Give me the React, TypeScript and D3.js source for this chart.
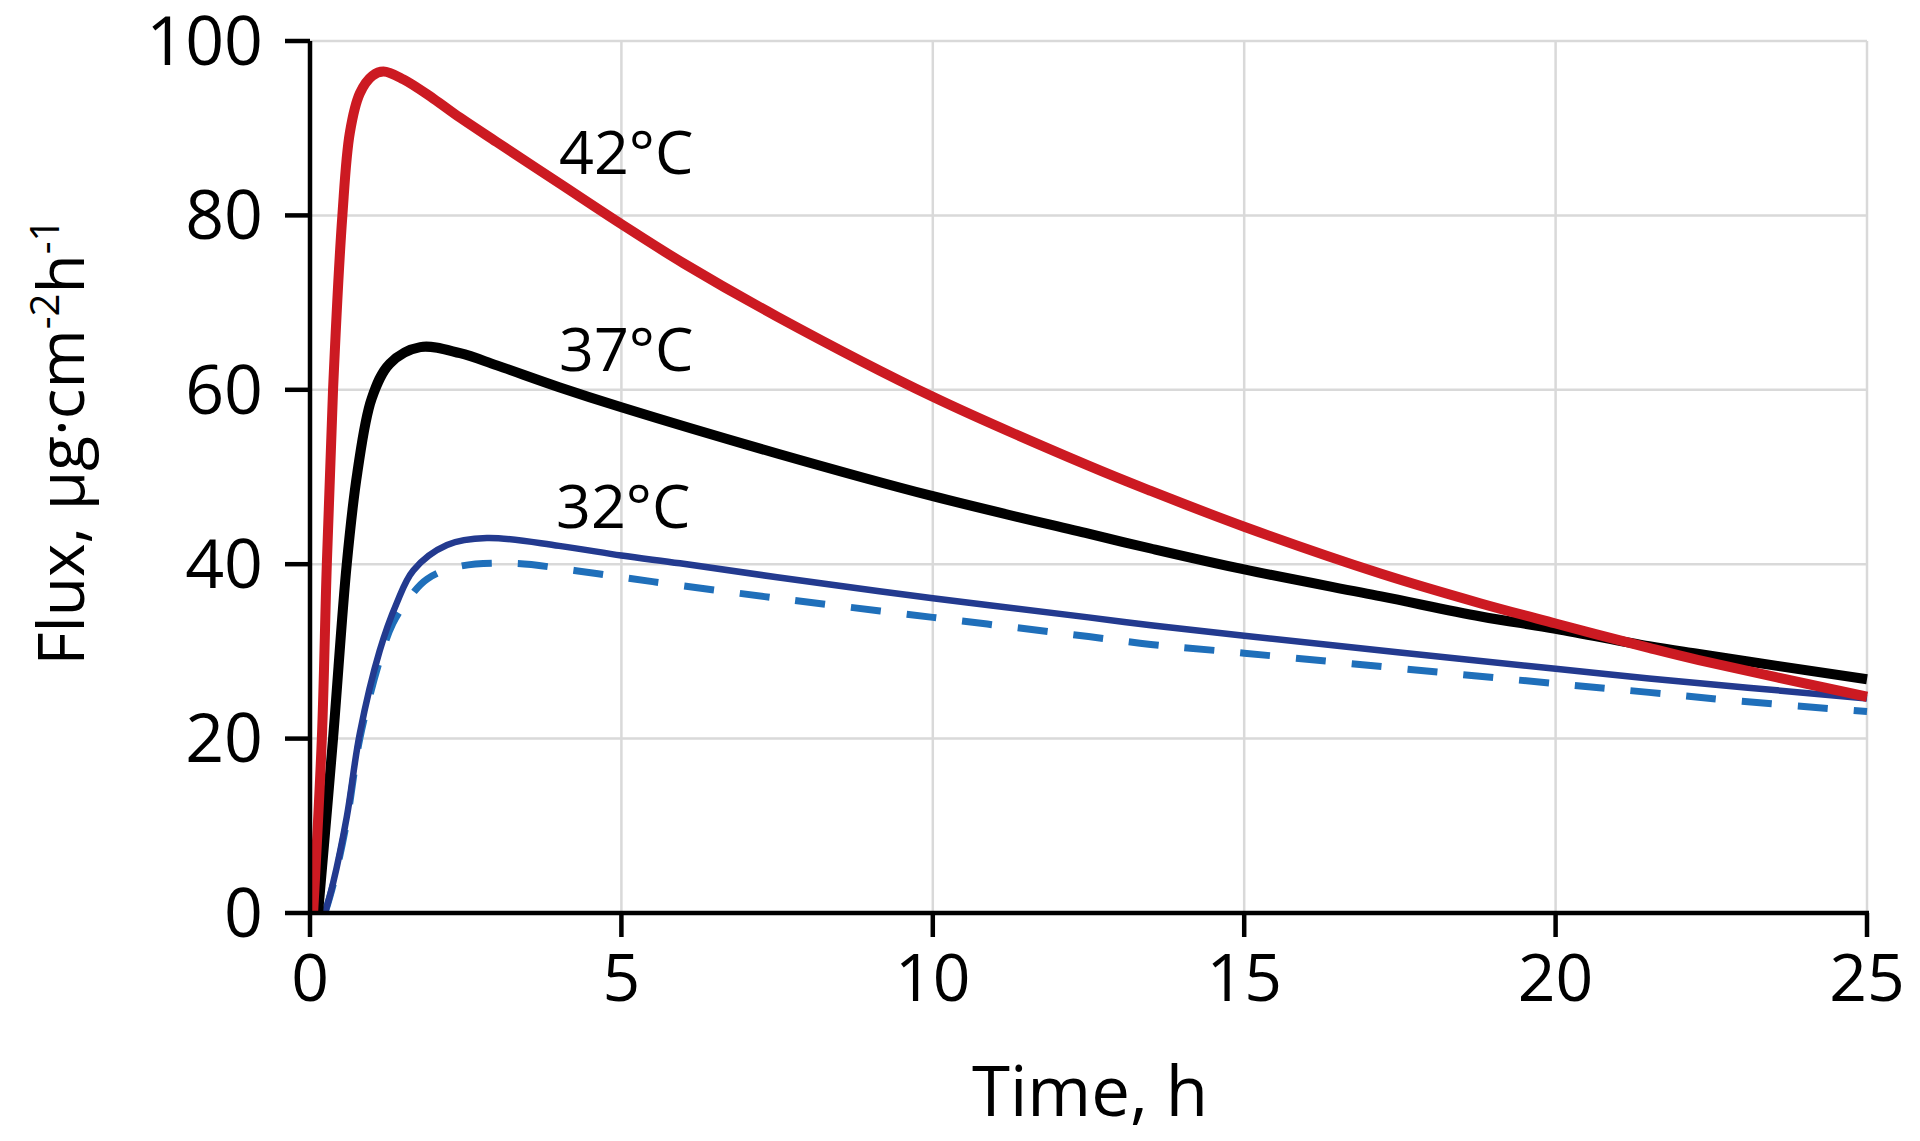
import React from 'react'
import * as d3 from 'd3'

// time (h) / flux values
const red42T = [0.05, 0.19, 0.27, 0.37, 0.52, 0.64, 0.8, 1.0, 1.18, 1.5, 1.98, 2.41, 3, 4, 5, 6, 7.5, 10, 12.5, 13.5, 15, 17.2, 18.8, 20, 21.5, 22.3, 25]
const red42V = [0, 20, 40, 60, 80, 89.5, 94, 96, 96.5, 95.6, 93.4, 91.2, 88.4, 83.7, 79, 74.5, 68.4, 59.2, 51.3, 48.4, 44.3, 38.9, 35.5, 33.2, 30.4, 29.0, 24.8]

const black37T = [0.13, 0.37, 0.59, 0.76, 0.99, 1.28, 1.77, 2.41, 3, 4, 5, 7.5, 10, 12.5, 13.5, 15, 17.2, 18.8, 20, 21.5, 22.3, 25]
const black37V = [0, 20, 40, 50.5, 59, 63, 64.9, 64.2, 62.8, 60.3, 58, 52.7, 47.8, 43.5, 41.8, 39.4, 36.3, 34.0, 32.6, 30.6, 29.7, 26.8]

const blue32T = [0.24, 0.37, 0.59, 0.8, 1.12, 1.39, 1.66, 2.2, 2.84, 4, 5, 5.94, 7.5, 10, 12.5, 13.5, 15, 20, 21.5, 25]
const blue32V = [0, 3.4, 11, 20.6, 30.1, 35.5, 39.3, 42.2, 43, 42.1, 41, 40.1, 38.5, 36.1, 33.9, 33.0, 31.8, 28.0, 26.9, 24.6]

const dashT = [0.24, 0.37, 0.59, 0.8, 1.12, 1.33, 1.6, 1.88, 2.36, 3.26, 4.33, 5.5, 7.5, 10, 12.5, 13.5, 15, 20, 21.5, 22.8, 25]
const dashV = [0, 3.2, 10.5, 20, 29, 33.2, 36.2, 38.3, 39.7, 40.1, 39.2, 38, 36.1, 33.9, 31.7, 30.8, 29.8, 26.3, 25.3, 24.4, 23.1]

const xTicks = [0, 5, 10, 15, 20, 25]
const yTicks = [0, 20, 40, 60, 80, 100]

const labels = [
  { text: '42°C', t: 4.0, v: 84.7 },
  { text: '37°C', t: 4.0, v: 62.2 },
  { text: '32°C', t: 3.95, v: 44.2 },
]

const FONT = '"Open Sans", "Noto Sans", sans-serif'

const App = () => {
  const x = d3.scaleLinear().domain([0, 25]).range([310, 1867])
  const y = d3.scaleLinear().domain([0, 100]).range([913, 41])

  const line = d3
    .line<[number, number]>()
    .x(d => x(d[0]))
    .y(d => y(d[1]))
    .curve(d3.curveCatmullRom.alpha(0.5))

  const zip = (ts: number[], vs: number[]) => ts.map((t, i) => [t, vs[i]] as [number, number])

  return (
    <svg width={1920} height={1141} style={{ position: 'absolute', left: 0, top: 0, background: '#fff' }}>
      {/* grid */}
      {xTicks.slice(1).map(t => (
        <line key={'gx' + t} x1={x(t)} x2={x(t)} y1={y(0)} y2={y(100)} stroke="#d9d9d9" strokeWidth={2.5} />
      ))}
      {yTicks.slice(1).map(v => (
        <line key={'gy' + v} x1={x(0)} x2={x(25)} y1={y(v)} y2={y(v)} stroke="#d9d9d9" strokeWidth={2.5} />
      ))}

      {/* curves */}
      <path d={line(zip(dashT, dashV)) || ''} fill="none" stroke="#1f6fba" strokeWidth={7} strokeDasharray="30 26" />
      <path d={line(zip(blue32T, blue32V)) || ''} fill="none" stroke="#233a8f" strokeWidth={6.5} />
      <path d={line(zip(black37T, black37V)) || ''} fill="none" stroke="#000" strokeWidth={10} strokeLinejoin="round" />
      <path d={line(zip(red42T, red42V)) || ''} fill="none" stroke="#cc1a22" strokeWidth={10} strokeLinejoin="round" />

      {/* axes */}
      <line x1={x(0)} x2={x(0)} y1={y(0) + 2} y2={y(100)} stroke="#000" strokeWidth={4.5} />
      <line x1={x(0) - 2} x2={x(25) + 2} y1={y(0)} y2={y(0)} stroke="#000" strokeWidth={4.5} />
      {yTicks.map(v => (
        <g key={'ty' + v}>
          <line x1={x(0) - 25} x2={x(0)} y1={y(v)} y2={y(v)} stroke="#000" strokeWidth={4.5} />
          <text x={x(0) - 47} y={y(v)} dy="0.35em" textAnchor="end" fontFamily={FONT} fontSize={68} fill="#000">
            {v}
          </text>
        </g>
      ))}
      {xTicks.map(t => (
        <g key={'tx' + t}>
          <line x1={x(t)} x2={x(t)} y1={y(0)} y2={y(0) + 24} stroke="#000" strokeWidth={4.5} />
          <text x={x(t)} y={1001} textAnchor="middle" fontFamily={FONT} fontSize={66} fill="#000">
            {t}
          </text>
        </g>
      ))}

      {/* curve labels */}
      {labels.map(l => (
        <text key={l.text} x={x(l.t)} y={y(l.v)} fontFamily={FONT} fontSize={61} fill="#000">
          {l.text}
        </text>
      ))}

      {/* axis titles */}
      <text x={1090} y={1116} textAnchor="middle" fontFamily={FONT} fontSize={69} fill="#000">
        Time, h
      </text>
      <text transform="translate(84,442) rotate(-90)" textAnchor="middle" fontFamily={FONT} fontSize={64} fill="#000">
        Flux, μg·cm
        <tspan fontSize={40} dy={-25}>-2</tspan>
        <tspan dy={25}>h</tspan>
        <tspan fontSize={40} dy={-25}>-1</tspan>
      </text>
    </svg>
  )
}

export default App
